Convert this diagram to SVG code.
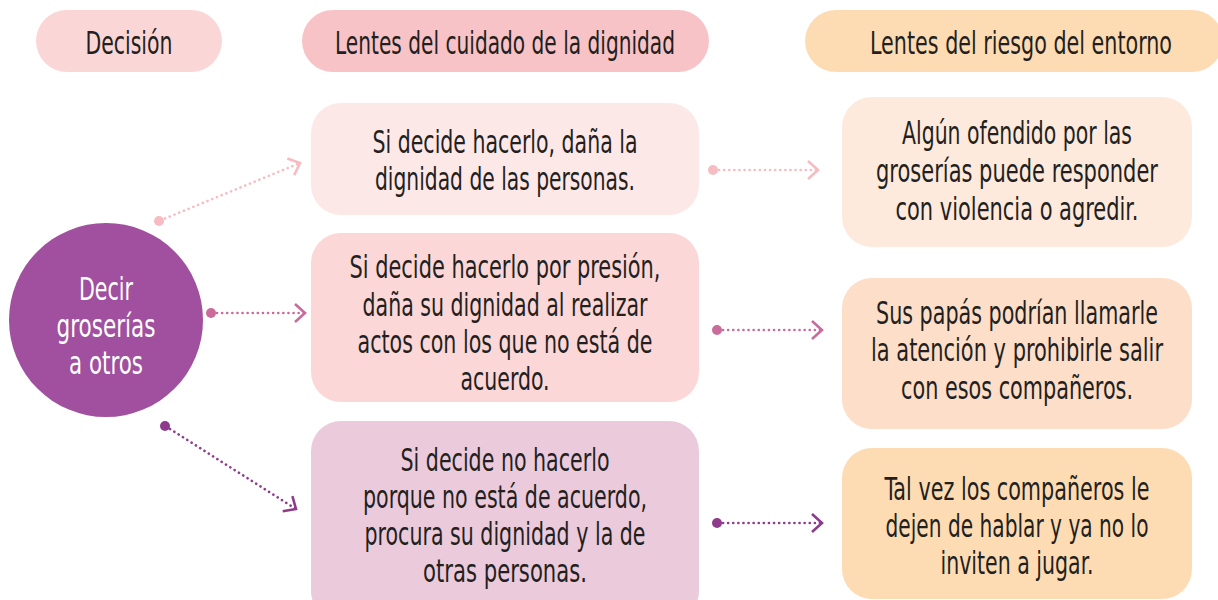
<svg xmlns="http://www.w3.org/2000/svg" width="1218" height="600" viewBox="0 0 1218 600">
<defs>
<style>
.t{font-family:"DejaVu Sans Condensed","DejaVu Sans",sans-serif;font-stretch:condensed;font-size:24px;fill:#231f20;text-anchor:middle}
.w{fill:#ffffff}
.c{fill:none;stroke-width:2.6;stroke-linecap:round;stroke-dasharray:0.1 5}
.lt{stroke:#f7bcc1}.md{stroke:#c96c9c}.dk{stroke:#8e3b8c}
</style>
<marker id="aL" viewBox="-12 -11 14 22" markerWidth="14" markerHeight="22" refX="0" refY="0" orient="auto" markerUnits="userSpaceOnUse"><path d="M-10,-9 L0,0 L-10,9" fill="none" stroke="#f7bcc1" stroke-width="2.6"/></marker>
<marker id="aM" viewBox="-12 -11 14 22" markerWidth="14" markerHeight="22" refX="0" refY="0" orient="auto" markerUnits="userSpaceOnUse"><path d="M-10,-9 L0,0 L-10,9" fill="none" stroke="#c96c9c" stroke-width="2.6"/></marker>
<marker id="aD" viewBox="-12 -11 14 22" markerWidth="14" markerHeight="22" refX="0" refY="0" orient="auto" markerUnits="userSpaceOnUse"><path d="M-10,-9 L0,0 L-10,9" fill="none" stroke="#8e3b8c" stroke-width="2.6"/></marker>
</defs>
<rect width="1218" height="600" fill="#ffffff"/>

<g id="h-decision"><rect x="36" y="10" width="186" height="62" rx="31" fill="#fbd6d6"/><text class="t" transform="matrix(1 0 0 1.3 129 54)" textLength="87" lengthAdjust="spacingAndGlyphs">Decisión</text></g>
<g id="h-cuidado"><rect x="302" y="10" width="407" height="62" rx="31" fill="#f8c3c6"/><text class="t" transform="matrix(1 0 0 1.3 505 54)" textLength="340" lengthAdjust="spacingAndGlyphs">Lentes del cuidado de la dignidad</text></g>
<g id="h-riesgo"><rect x="805" y="10" width="418" height="62" rx="31" fill="#fddcb4"/><text class="t" transform="matrix(1 0 0 1.3 1021 54)" textLength="302" lengthAdjust="spacingAndGlyphs">Lentes del riesgo del entorno</text></g>

<g id="decision"><circle cx="106" cy="320" r="97" fill="#a0509e"/>
<text class="t w" transform="matrix(1 0 0 1.3 106 300)" textLength="54" lengthAdjust="spacingAndGlyphs">Decir</text>
<text class="t w" transform="matrix(1 0 0 1.3 106 337)" textLength="99" lengthAdjust="spacingAndGlyphs">groserías</text>
<text class="t w" transform="matrix(1 0 0 1.3 106 374)" textLength="74" lengthAdjust="spacingAndGlyphs">a otros</text></g>

<g id="m1"><rect x="311" y="103" width="388" height="112" rx="30" fill="#fde8e8"/>
<text class="t" transform="matrix(1 0 0 1.3 505 153)" textLength="265" lengthAdjust="spacingAndGlyphs">Si decide hacerlo, daña la</text>
<text class="t" transform="matrix(1 0 0 1.3 505 190)" textLength="260" lengthAdjust="spacingAndGlyphs">dignidad de las personas.</text></g>

<g id="m2"><rect x="311" y="233" width="388" height="169" rx="30" fill="#fbd7d7"/>
<text class="t" transform="matrix(1 0 0 1.3 505 278)" textLength="311" lengthAdjust="spacingAndGlyphs">Si decide hacerlo por presión,</text>
<text class="t" transform="matrix(1 0 0 1.3 505 316)" textLength="285" lengthAdjust="spacingAndGlyphs">daña su dignidad al realizar</text>
<text class="t" transform="matrix(1 0 0 1.3 505 353)" textLength="295" lengthAdjust="spacingAndGlyphs">actos con los que no está de</text>
<text class="t" transform="matrix(1 0 0 1.3 505 390)" textLength="89" lengthAdjust="spacingAndGlyphs">acuerdo.</text></g>

<g id="m3"><rect x="311" y="421" width="388" height="200" rx="30" fill="#ebcbdb"/>
<text class="t" transform="matrix(1 0 0 1.3 505 471)" textLength="209" lengthAdjust="spacingAndGlyphs">Si decide no hacerlo</text>
<text class="t" transform="matrix(1 0 0 1.3 505 508)" textLength="284" lengthAdjust="spacingAndGlyphs">porque no está de acuerdo,</text>
<text class="t" transform="matrix(1 0 0 1.3 505 545)" textLength="281" lengthAdjust="spacingAndGlyphs">procura su dignidad y la de</text>
<text class="t" transform="matrix(1 0 0 1.3 505 582)" textLength="164" lengthAdjust="spacingAndGlyphs">otras personas.</text></g>

<g id="r1"><rect x="842" y="97" width="350" height="150" rx="30" fill="#fdeadc"/>
<text class="t" transform="matrix(1 0 0 1.3 1017 144)" textLength="230" lengthAdjust="spacingAndGlyphs">Algún ofendido por las</text>
<text class="t" transform="matrix(1 0 0 1.3 1017 182)" textLength="282" lengthAdjust="spacingAndGlyphs">groserías puede responder</text>
<text class="t" transform="matrix(1 0 0 1.3 1017 220)" textLength="243" lengthAdjust="spacingAndGlyphs">con violencia o agredir.</text></g>

<g id="r2"><rect x="842" y="278" width="350" height="151" rx="30" fill="#fcdec9"/>
<text class="t" transform="matrix(1 0 0 1.3 1017 324)" textLength="282" lengthAdjust="spacingAndGlyphs">Sus papás podrían llamarle</text>
<text class="t" transform="matrix(1 0 0 1.3 1017 361)" textLength="292" lengthAdjust="spacingAndGlyphs">la atención y prohibirle salir</text>
<text class="t" transform="matrix(1 0 0 1.3 1017 399)" textLength="232" lengthAdjust="spacingAndGlyphs">con esos compañeros.</text></g>

<g id="r3"><rect x="842" y="448" width="350" height="151" rx="30" fill="#fddcb4"/>
<text class="t" transform="matrix(1 0 0 1.3 1017 500)" textLength="265" lengthAdjust="spacingAndGlyphs">Tal vez los compañeros le</text>
<text class="t" transform="matrix(1 0 0 1.3 1017 537)" textLength="263" lengthAdjust="spacingAndGlyphs">dejen de hablar y ya no lo</text>
<text class="t" transform="matrix(1 0 0 1.3 1017 574)" textLength="153" lengthAdjust="spacingAndGlyphs">inviten a jugar.</text></g>

<g id="connectors">
<circle cx="159" cy="221" r="5" fill="#f7bcc1"/><line class="c lt" x1="165" y1="218.5" x2="300" y2="163" marker-end="url(#aL)"/>
<circle cx="211" cy="313" r="5" fill="#c96c9c"/><line class="c md" x1="217" y1="313" x2="305" y2="313" marker-end="url(#aM)"/>
<circle cx="165" cy="426" r="5" fill="#8e3b8c"/><line class="c dk" x1="170" y1="429" x2="296" y2="509" marker-end="url(#aD)"/>
<circle cx="713" cy="170" r="5" fill="#f7bcc1"/><line class="c lt" x1="719" y1="170" x2="818" y2="170" marker-end="url(#aL)"/>
<circle cx="717" cy="330" r="5" fill="#c96c9c"/><line class="c md" x1="723" y1="330" x2="822" y2="330" marker-end="url(#aM)"/>
<circle cx="717" cy="523" r="5" fill="#8e3b8c"/><line class="c dk" x1="723" y1="523" x2="822" y2="523" marker-end="url(#aD)"/>
</g>
</svg>
